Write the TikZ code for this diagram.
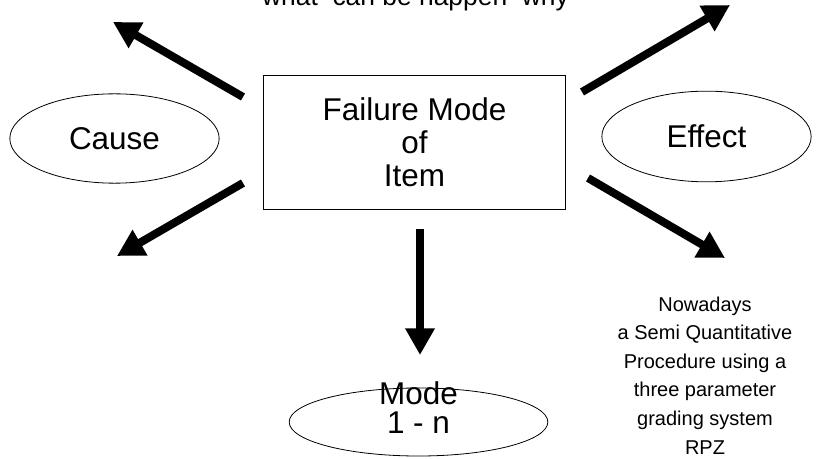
\documentclass[tikz,border=0pt]{standalone}
\usepackage{fontspec}
\setmainfont{Liberation Sans}
\usetikzlibrary{arrows.meta,shapes.geometric}

\tikzset{
  bubble/.style={draw, ellipse, line width=0.6pt, fill=white, inner sep=0pt},
  fatarrow/.style={line width=6pt, -{Triangle[length=20pt,width=21pt]}},
  bigtext/.style={font=\fontsize{23.6}{24.75}\selectfont},
  smalltext/.style={font=\fontsize{15}{21.4}\selectfont},
}

\begin{document}
\begin{tikzpicture}[x=0.75pt, y=-0.75pt]
\useasboundingbox (0,0) rectangle (830,459);

% the item in the middle
\node [draw, line width=0.6pt, minimum width=227pt, minimum height=100pt, align=center, bigtext]
  (item) at (414.5,142.5) {Failure Mode\\of\\Item};

% the three ellipses
\node [bubble, minimum width=157pt, minimum height=67pt, bigtext] (cause) at (114.5,138.5) {Cause};
\node [bubble, minimum width=157pt, minimum height=68pt, bigtext] (effect) at (706.5,136.5) {Effect};
\node [bubble, minimum width=194pt, minimum height=51pt] (mode) at (418.5,422) {};
\node [align=center, anchor=base, font=\fontsize{23.6}{21.75}\selectfont] (modetext) at (418.5,433) {Mode\\1 - n};

% texts (last line on the base point)
\node [anchor=base, font=\fontsize{19.8}{20}\selectfont] (what) at (415.5,6) {what\ \ can be happen\ \ why};
\node [anchor=base, align=center, smalltext] (rpz) at (705,454)
  {Nowadays\\a Semi Quantitative\\Procedure using a\\three parameter\\grading system\\RPZ};

% arrow ends
\coordinate (ulfrom) at (243,97);   \coordinate (ulto) at (113,22);
\coordinate (llfrom) at (243,183);  \coordinate (llto) at (117,256);
\coordinate (urfrom) at (582,92);   \coordinate (urto) at (730,5);
\coordinate (lrfrom) at (588,178);  \coordinate (lrto) at (725,258);
\coordinate (dnfrom) at (420,229);  \coordinate (dnto) at (420,355);

\foreach \a in {ul,ll,ur,lr,dn}
  \draw [fatarrow] (\a from) -- (\a to);

\end{tikzpicture}
\end{document}
